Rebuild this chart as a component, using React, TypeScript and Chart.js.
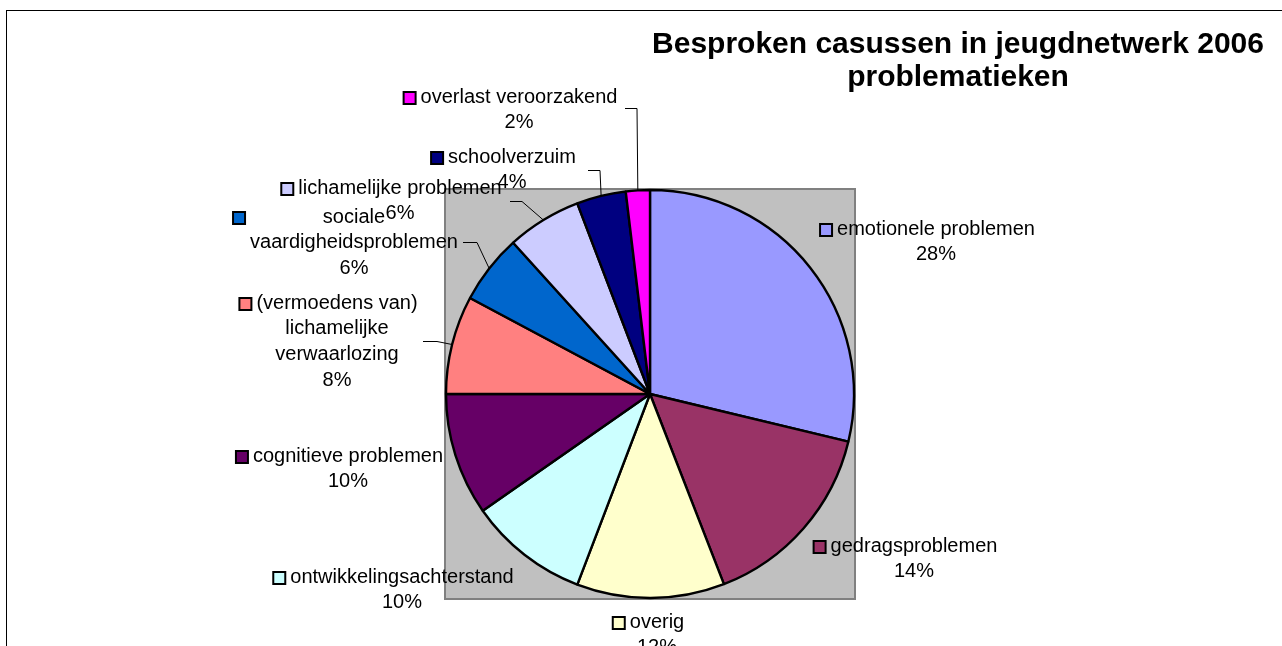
import React, { useEffect, useRef } from 'react';
import { Chart, registerables } from 'chart.js';

Chart.register(...registerables);

// ---- data ----
const categories = [
  'emotionele problemen',
  'gedragsproblemen',
  'overig',
  'ontwikkelingsachterstand',
  'cognitieve problemen',
  '(vermoedens van) lichamelijke verwaarlozing',
  'sociale vaardigheidsproblemen',
  'lichamelijke problemen',
  'schoolverzuim',
  'overlast veroorzakend',
];
const sliceShares = [28.75, 15.35, 11.7, 9.5, 9.7, 7.8, 5.5, 5.9, 3.9, 1.9];
const percentLabels = ['28%', '14%', '12%', '10%', '10%', '8%', '6%', '6%', '4%', '2%'];
const sliceColors = [
  '#9999FF', '#993366', '#FFFFCC', '#CCFFFF', '#660066',
  '#FF8080', '#0066CC', '#CCCCFF', '#000080', '#FF00FF',
];
const titleLines = ['Besproken casussen in jeugdnetwerk 2006', 'problematieken'];

// ---- label layout (positions only) ----
type Leader = { x: number; y: number; dx: number };
type LabelLayout = { cx: number; y: number; lines: string[]; leader?: Leader };
const labelLayout: LabelLayout[] = [
  { cx: 936, y: 229, lines: ['emotionele problemen'] },
  { cx: 914, y: 546, lines: ['gedragsproblemen'] },
  { cx: 657, y: 622, lines: ['overig'] },
  { cx: 402, y: 577, lines: ['ontwikkelingsachterstand'] },
  { cx: 348, y: 456, lines: ['cognitieve problemen'] },
  { cx: 337, y: 303, lines: ['(vermoedens van)', 'lichamelijke', 'verwaarlozing'], leader: { x: 423, y: 341, dx: 14 } },
  { cx: 354, y: 217, lines: ['sociale', 'vaardigheidsproblemen'], leader: { x: 463, y: 242, dx: 14 } },
  { cx: 400, y: 188, lines: ['lichamelijke problemen'], leader: { x: 510, y: 201, dx: 12 } },
  { cx: 512, y: 157, lines: ['schoolverzuim'], leader: { x: 588, y: 170, dx: 12 } },
  { cx: 519, y: 97, lines: ['overlast veroorzakend'], leader: { x: 625, y: 108, dx: 12 } },
];

const FONT = '"Liberation Sans", Arial, Helvetica, sans-serif';
const LINE_H = 25.7;

const decorPlugin = {
  id: 'decor',
  beforeDatasetsDraw(chart: any) {
    const ctx = chart.ctx as CanvasRenderingContext2D;
    const meta = chart.getDatasetMeta(0);
    const arc = meta.data[0];
    if (!arc) return;
    const r = arc.outerRadius;
    const x0 = arc.x - r - 1;
    const y0 = arc.y - r - 1;
    const size = 2 * r + 2;
    ctx.save();
    ctx.fillStyle = '#C0C0C0';
    ctx.fillRect(x0, y0, size, size);
    ctx.strokeStyle = '#808080';
    ctx.lineWidth = 2;
    ctx.strokeRect(x0, y0, size, size);
    ctx.restore();
  },
  afterDraw(chart: any) {
    const ctx = chart.ctx as CanvasRenderingContext2D;
    ctx.save();
    // outer frame
    ctx.strokeStyle = '#000000';
    ctx.lineWidth = 1;
    ctx.strokeRect(6.5, 10.5, 1400, 800);

    // title
    ctx.fillStyle = '#000';
    ctx.font = `bold 30px ${FONT}`;
    ctx.textAlign = 'center';
    ctx.textBaseline = 'middle';
    titleLines.forEach((t, i) => ctx.fillText(t, 958, 45 + i * 33));

    const meta = chart.getDatasetMeta(0);
    ctx.font = `20px ${FONT}`;
    labelLayout.forEach((lab, i) => {
      const lines = [...lab.lines, percentLabels[i]];
      let maxW = 0;
      lab.lines.forEach((l) => { maxW = Math.max(maxW, ctx.measureText(l).width); });
      const left = lab.cx - maxW / 2;
      ctx.fillStyle = '#000';
      ctx.textAlign = 'center';
      ctx.textBaseline = 'middle';
      lines.forEach((l, j) => ctx.fillText(l, lab.cx, lab.y + j * LINE_H));
      // legend key
      const ks = 12;
      const kx = left - 17;
      const ky = lab.y - ks / 2 + 1;
      ctx.fillStyle = sliceColors[i];
      ctx.fillRect(kx, ky, ks, ks);
      ctx.strokeStyle = '#000';
      ctx.lineWidth = 2;
      ctx.strokeRect(kx, ky, ks, ks);
      // leader line
      const el = meta.data[i];
      if (lab.leader && el) {
        const mid = (el.startAngle + el.endAngle) / 2;
        const ex = el.x + Math.cos(mid) * el.outerRadius;
        const ey = el.y + Math.sin(mid) * el.outerRadius;
        ctx.strokeStyle = '#000';
        ctx.lineWidth = 1;
        ctx.beginPath();
        ctx.moveTo(lab.leader.x, lab.leader.y + 0.5);
        ctx.lineTo(lab.leader.x + lab.leader.dx, lab.leader.y + 0.5);
        ctx.lineTo(ex, ey);
        ctx.stroke();
      }
    });
    ctx.restore();
  },
};

export default function App() {
  const ref = useRef<HTMLCanvasElement | null>(null);
  useEffect(() => {
    if (!ref.current) return;
    const chart = new Chart(ref.current, {
      type: 'pie',
      data: {
        labels: categories,
        datasets: [
          {
            data: sliceShares,
            backgroundColor: sliceColors,
            borderColor: '#000000',
            borderWidth: 2.4,
          },
        ],
      },
      options: {
        responsive: false,
        animation: false,
        radius: 204,
        layout: { padding: { left: 446, right: 428, top: 190, bottom: 48 } },
        plugins: {
          legend: { display: false },
          title: { display: false },
          tooltip: { enabled: false },
        },
      } as any,
      plugins: [decorPlugin],
    });
    return () => chart.destroy();
  }, []);
  return (
    <div style={{ position: 'absolute', left: 0, top: 0, width: 1282, height: 646, background: '#fff' }}>
      <canvas ref={ref} width={1282} height={646} style={{ display: 'block' }} />
    </div>
  );
}
